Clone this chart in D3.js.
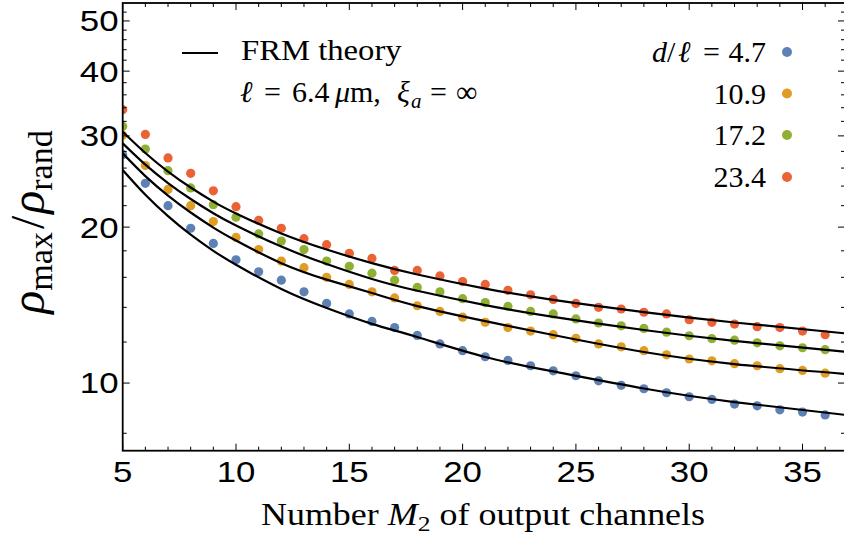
<!DOCTYPE html>
<html>
<head>
<meta charset="utf-8">
<script src="https://cdn.jsdelivr.net/npm/d3@7"></script>
<style>
  body { margin: 0; background: #fff; }
  svg { display: block; }
  .tick-label { font-family: "Liberation Sans", Arial, sans-serif; font-size: 29px; fill: #000; }
  .serif { font-family: "Liberation Serif", "Times New Roman", serif; fill: #000; }
</style>
</head>
<body>
<div id="chart"></div>
<script>
// measured values
const M2 = [5,6,7,8,9,10,11,12,13,14,15,16,17,18,19,20,21,22,23,24,25,26,27,28,29,30,31,32,33,34,35,36];
const ratioD47  = [27.6,24.3,22.0,19.9,18.6,17.3,16.4,15.8,15.0,14.25,13.6,13.15,12.8,12.36,11.9,11.55,11.24,11.06,10.8,10.56,10.33,10.1,9.9,9.75,9.58,9.41,9.3,9.11,9.04,8.88,8.79,8.68];
const ratioD109 = [30.1,26.3,23.65,22.0,20.5,19.1,18.1,17.2,16.7,16.0,15.5,15.0,14.6,14.1,13.75,13.4,13.1,12.8,12.6,12.4,12.2,11.9,11.75,11.55,11.34,11.13,11.04,10.9,10.8,10.66,10.58,10.45];
const ratioD172 = [31.3,28.3,25.7,23.8,22.1,20.9,19.4,18.8,18.1,17.2,16.8,16.3,15.8,15.3,15.0,14.55,14.3,14.06,13.75,13.6,13.3,13.06,12.9,12.75,12.54,12.34,12.18,12.1,11.96,11.8,11.7,11.6];
const ratioD234 = [33.7,30.2,27.2,25.4,23.5,21.9,20.6,19.9,19.0,18.5,17.8,17.4,16.5,16.5,16.1,15.7,15.5,15.1,14.8,14.5,14.25,14.0,13.9,13.7,13.6,13.25,13.1,13.0,12.85,12.8,12.6,12.4];

// FRM theory curves, read at these M2 values
const theoryM2   = [5,6,7,8,9,10,12,14,16,18,21,24,28,32,36.9];
const theoryD47  = [25.77,23.09,21.0,19.34,18.0,16.92,15.19,13.96,13.01,12.27,11.23,10.53,9.76,9.19,8.68];
const theoryD109 = [27.76,25.09,23.01,21.34,19.96,18.84,17.04,15.84,14.92,14.08,13.17,12.38,11.48,10.88,10.41];
const theoryD172 = [29.02,26.4,24.33,22.66,21.27,20.14,18.34,16.97,15.88,15.07,14.14,13.42,12.66,12.06,11.49];
const theoryD234 = [30.56,27.8,25.6,23.85,22.4,21.25,19.44,18.1,17.04,16.2,15.22,14.47,13.71,13.09,12.47];

const seriesLabels = ["4.7", "10.9", "17.2", "23.4"];
const colors = ["#5e81b5", "#e19c24", "#8fb032", "#eb6235"];

const xMajor = [5,10,15,20,25,30,35];
const xMinor = [6,7,8,9,11,12,13,14,16,17,18,19,21,22,23,24,26,27,28,29,31,32,33,34,36];
const yMajor = [10,20,30,40,50];
const yMinor = [8,12,14,16,18,22,24,26,28,32,34,36,38,42,44,46,48,52];

const W = 844, H = 539;
const plot = {left: 122.7, right: 845, top: 3, bottom: 450.7};

const svg = d3.select("#chart").append("svg")
    .attr("width", W)
    .attr("height", H);

const x = d3.scaleLinear().domain([5, 36.875]).range([plot.left, plot.right]);
const y = d3.scaleLog().domain([7.404, 54.15]).range([plot.bottom, plot.top]);

svg.append("clipPath").attr("id", "clip")
    .append("rect")
    .attr("x", plot.left).attr("y", plot.top)
    .attr("width", plot.right - plot.left).attr("height", plot.bottom - plot.top);

const series = [
    {vals: ratioD47,  theory: theoryD47},
    {vals: ratioD109, theory: theoryD109},
    {vals: ratioD172, theory: theoryD172},
    {vals: ratioD234, theory: theoryD234}
];

const line = d3.line()
    .x(d => x(d[0]))
    .y(d => y(d[1]))
    .curve(d3.curveNatural);

const g = svg.append("g").attr("clip-path", "url(#clip)");

// data points
series.forEach((s, i) => {
    g.append("g")
        .selectAll("circle")
        .data(M2.map((m, j) => [m, s.vals[j]]))
        .enter()
        .append("circle")
        .attr("cx", d => x(d[0]))
        .attr("cy", d => y(d[1]))
        .attr("r", 4.6)
        .style("fill", colors[i]);
});

// theory lines
series.forEach(s => {
    g.append("path")
        .datum(theoryM2.map((m, j) => [m, s.theory[j]]))
        .attr("fill", "none")
        .attr("stroke", "#000")
        .attr("stroke-width", 2.2)
        .attr("d", line);
});

// frame + ticks (ticks point inside)
const axisG = svg.append("g").attr("stroke", "#000");
axisG.append("rect")
    .attr("x", plot.left).attr("y", plot.top)
    .attr("width", plot.right - plot.left).attr("height", plot.bottom - plot.top)
    .attr("fill", "none")
    .attr("stroke-width", 1.8);

function xTicks(vals, len) {
    vals.forEach(v => {
        axisG.append("line").attr("x1", x(v)).attr("x2", x(v))
            .attr("y1", plot.bottom).attr("y2", plot.bottom - len).attr("stroke-width", 1);
        axisG.append("line").attr("x1", x(v)).attr("x2", x(v))
            .attr("y1", plot.top).attr("y2", plot.top + len).attr("stroke-width", 1);
    });
}
function yTicks(vals, len) {
    vals.forEach(v => {
        axisG.append("line").attr("y1", y(v)).attr("y2", y(v))
            .attr("x1", plot.left).attr("x2", plot.left + len).attr("stroke-width", 1);
        axisG.append("line").attr("y1", y(v)).attr("y2", y(v))
            .attr("x1", plot.right).attr("x2", plot.right - len).attr("stroke-width", 1);
    });
}
xTicks(xMajor, 7);
xTicks(xMinor, 4);
yTicks(yMajor, 7);
yTicks(yMinor, 4);

// tick labels
xMajor.forEach(v => {
    svg.append("text").attr("class", "tick-label")
        .attr("text-anchor", "middle")
        .attr("transform", `translate(${x(v)}, 481.5) scale(1.2, 1)`)
        .text(v);
});
yMajor.forEach(v => {
    svg.append("text").attr("class", "tick-label")
        .attr("text-anchor", "end")
        .attr("transform", `translate(118.5, ${y(v) + 10.4}) scale(1.2, 1)`)
        .text(v);
});

// axis titles
const xt = svg.append("text").attr("class", "serif")
    .attr("transform", "translate(483, 525) scale(1.16, 1)")
    .attr("text-anchor", "middle")
    .style("font-size", "31px");
xt.append("tspan").text("Number ");
xt.append("tspan").style("font-style", "italic").text("M");
xt.append("tspan").attr("dy", 6).style("font-size", "22px").text("2");
xt.append("tspan").attr("dy", -6).text(" of output channels");

const yt = svg.append("text").attr("class", "serif")
    .attr("transform", "translate(44, 222) rotate(-90)")
    .attr("text-anchor", "middle")
    .style("font-size", "48px");
yt.append("tspan").style("font-style", "italic").text("ρ");
yt.append("tspan").attr("dy", 8).style("font-size", "34px").text("max");
yt.append("tspan").attr("dy", -8).attr("dx", 3).text("/");
yt.append("tspan").attr("dx", 2).style("font-style", "italic").text("ρ");
yt.append("tspan").attr("dy", 8).style("font-size", "34px").text("rand");

// legend: theory
svg.append("line")
    .attr("x1", 182).attr("x2", 218).attr("y1", 53).attr("y2", 53)
    .attr("stroke", "#000").attr("stroke-width", 2.2);
svg.append("text").attr("class", "serif")
    .attr("transform", "translate(241, 60) scale(1.09, 1)")
    .style("font-size", "30px")
    .text("FRM theory");

const lt = svg.append("g").attr("class", "serif").style("font-size", "30px");
const ltParts = [
    {t: "ℓ", x: 240, it: true},
    {t: "=", x: 264},
    {t: "6.4", x: 292},
    {t: "μ", x: 335, it: true},
    {t: "m,", x: 350},
    {t: "ξ", x: 397, it: true},
    {t: "=", x: 430},
    {t: "∞", x: 456}
];
ltParts.forEach(p => {
    lt.append("text").attr("x", p.x).attr("y", 102)
        .style("font-style", p.it ? "italic" : "normal")
        .text(p.t);
});
lt.append("text").attr("x", 411).attr("y", 108)
    .style("font-size", "21px").style("font-style", "italic").text("a");

// legend: series
const legendY = [52, 93.5, 135, 177];
seriesLabels.forEach((lab, i) => {
    svg.append("text").attr("class", "serif")
        .attr("x", 766).attr("y", legendY[i] + 10)
        .attr("text-anchor", "end")
        .style("font-size", "30px")
        .text(lab);
    if (i === 0) {
        const h = svg.append("g").attr("class", "serif").style("font-size", "30px");
        h.append("text").attr("x", 652).attr("y", legendY[i] + 10).style("font-style", "italic").text("d");
        h.append("text").attr("x", 667).attr("y", legendY[i] + 10).text("/");
        h.append("text").attr("x", 678).attr("y", legendY[i] + 10).style("font-style", "italic").text("ℓ");
        h.append("text").attr("x", 703).attr("y", legendY[i] + 10).text("=");
    }
    svg.append("circle")
        .attr("cx", 787).attr("cy", legendY[i])
        .attr("r", 5)
        .style("fill", colors[i]);
});
</script>
</body>
</html>
